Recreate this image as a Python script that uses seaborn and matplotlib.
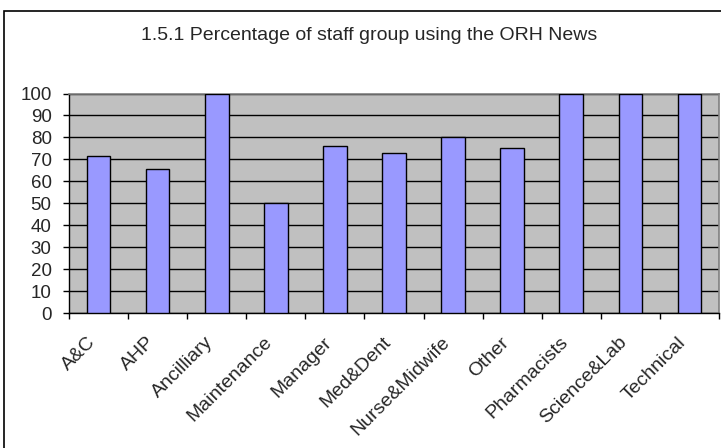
import matplotlib
matplotlib.use("Agg")
import matplotlib.pyplot as plt
from matplotlib.patches import Rectangle
from matplotlib.ticker import FixedLocator
from matplotlib.transforms import ScaledTranslation
import seaborn as sns
import pandas as pd

categories = ["A&C", "AHP", "Ancilliary", "Maintenance", "Manager", "Med&Dent",
              "Nurse&Midwife", "Other", "Pharmacists", "Science&Lab", "Technical"]
percentages = [71.5, 65.7, 100, 50, 76, 73, 80, 75, 100, 100, 100]
y_ticks = list(range(0, 101, 10))
title = "1.5.1 Percentage of staff group using the ORH News"

df = pd.DataFrame({"group": categories, "pct": percentages})

sns.set_theme(style="white")
plt.rcParams["font.family"] = ["Liberation Sans", "DejaVu Sans"]

W, H = 721, 448
fig = plt.figure(figsize=(W / 100, H / 100), dpi=100)

# outer chart border
fig.patches.append(Rectangle((4 / W, -0.05), 1.1, (H - 11) / H + 0.05,
                             transform=fig.transFigure, fill=False,
                             edgecolor="black", linewidth=1.2, zorder=0))

ax = fig.add_axes([69 / W, (H - 313) / H, (719 - 69) / W, (313 - 93.5) / H])
ax.set_facecolor("#C0C0C0")

sns.barplot(data=df, x="group", y="pct", ax=ax, color="#9999FF",
            saturation=1, width=0.4, edgecolor="black", linewidth=1.0,
            zorder=3)

ax.set_xlim(-0.5, len(categories) - 0.5)
ax.set_ylim(0, 100)
ax.set_yticks(y_ticks)
ax.yaxis.grid(True, color="black", linewidth=1.0, zorder=1)
ax.set_axisbelow(True)
for sp in ax.spines.values():
    sp.set_color("#808080")
    sp.set_linewidth(1.2)
ax.spines["left"].set_color("black")
ax.spines["bottom"].set_color("black")
ax.spines["left"].set_linewidth(1.0)
ax.spines["bottom"].set_linewidth(1.0)

ax.set_xlabel("")
ax.set_ylabel("")
ax.tick_params(axis="y", which="major", direction="out", length=4, width=1,
               color="black", labelsize=13.5, pad=8.5, left=True)
ax.tick_params(axis="x", which="major", length=0, labelsize=14, pad=15)
ax.xaxis.set_minor_locator(FixedLocator([i - 0.5 for i in range(len(categories) + 1)]))
ax.tick_params(axis="x", which="minor", direction="out", length=4, width=1,
               color="black", bottom=True)
ax.set_xticks(range(len(categories)))
ax.set_xticklabels(categories, rotation=45, ha="right", rotation_mode="anchor")
shift = ScaledTranslation(-12 / 100, 0, fig.dpi_scale_trans)
for lbl in ax.get_xticklabels():
    lbl.set_transform(lbl.get_transform() + shift)

fig.text(369 / W, 1 - 36 / H, title, ha="center", va="center", fontsize=14)

fig.savefig("out.png", dpi=100)
